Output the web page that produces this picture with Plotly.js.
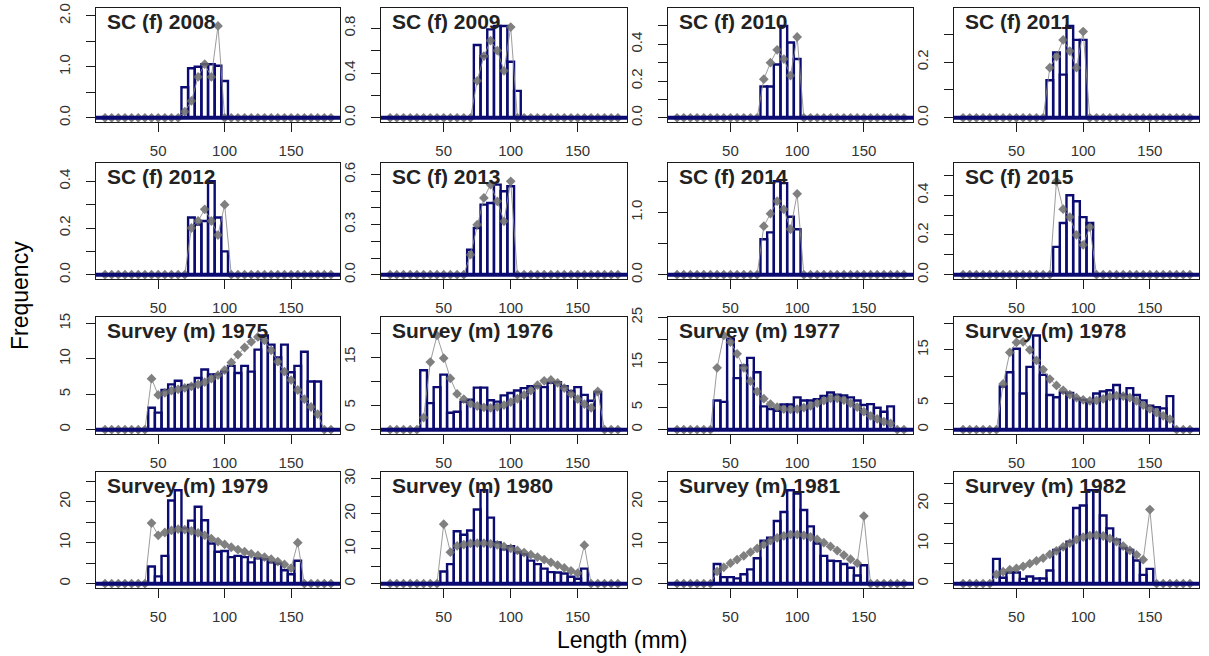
<!DOCTYPE html>
<html><head><meta charset="utf-8">
<script src="https://cdn.plot.ly/plotly-3.0.1.min.js"></script>
<style>html,body{margin:0;padding:0;background:#fff}#chart{width:1209px;height:656px}</style>
</head><body><div id="chart"></div>
<script>
// Length bins (mm)
const lengthBins = [10,15,20,25,30, 35,40,45,50,55, 60,65,70,75,80, 85,90,95,100,105, 110,115,120,125,130, 135,140,145,150,155, 160,165,170,175,180];

const panelTitles = ["SC (f) 2008","SC (f) 2009","SC (f) 2010","SC (f) 2011",
                     "SC (f) 2012","SC (f) 2013","SC (f) 2014","SC (f) 2015",
                     "Survey (m) 1975","Survey (m) 1976","Survey (m) 1977","Survey (m) 1978",
                     "Survey (m) 1979","Survey (m) 1980","Survey (m) 1981","Survey (m) 1982"];

const xTickVals = [50,100,150];
const xTickText = ["50","100","150"];

// Observed (bars) and expected (diamonds) frequencies, one value per length bin
const obs_SC2008 = [0,0,0,0,0, 0,0,0,0,0, 0,0,0.6,0.97,1.0, 1.05,1.05,1.02,0.72,0, 0,0,0,0,0, 0,0,0,0,0, 0,0,0,0,0];
const exp_SC2008 = [0,0,0,0,0, 0,0,0,0,0, 0,0,0.12,0.33,0.8, 1.05,0.8,1.8,0,0, 0,0,0,0,0, 0,0,0,0,0, 0,0,0,0,0];
const obs_SC2009 = [0,0,0,0,0, 0,0,0,0,0, 0,0,0,0.65,0.55, 0.79,0.82,0.82,0.5,0.24, 0,0,0,0,0, 0,0,0,0,0, 0,0,0,0,0];
const exp_SC2009 = [0,0,0,0,0, 0,0,0,0,0, 0,0,0,0.33,0.55, 0.69,0.6,0.42,0.81,0, 0,0,0,0,0, 0,0,0,0,0, 0,0,0,0,0];
const obs_SC2010 = [0,0,0,0,0, 0,0,0,0,0, 0,0,0,0.17,0.17, 0.29,0.5,0.41,0.32,0, 0,0,0,0,0, 0,0,0,0,0, 0,0,0,0,0];
const exp_SC2010 = [0,0,0,0,0, 0,0,0,0,0, 0,0,0,0.21,0.3, 0.37,0.32,0.23,0.44,0, 0,0,0,0,0, 0,0,0,0,0, 0,0,0,0,0];
const obs_SC2011 = [0,0,0,0,0, 0,0,0,0,0, 0,0,0,0.135,0.235, 0.155,0.33,0.28,0.28,0, 0,0,0,0,0, 0,0,0,0,0, 0,0,0,0,0];
const exp_SC2011 = [0,0,0,0,0, 0,0,0,0,0, 0,0,0,0.18,0.22, 0.28,0.24,0.18,0.31,0, 0,0,0,0,0, 0,0,0,0,0, 0,0,0,0,0];
const obs_SC2012 = [0,0,0,0,0, 0,0,0,0,0, 0,0,0,0.245,0.215, 0.23,0.4,0.245,0.1,0, 0,0,0,0,0, 0,0,0,0,0, 0,0,0,0,0];
const exp_SC2012 = [0,0,0,0,0, 0,0,0,0,0, 0,0,0,0.2,0.23, 0.28,0.23,0.17,0.3,0, 0,0,0,0,0, 0,0,0,0,0, 0,0,0,0,0];
const obs_SC2013 = [0,0,0,0,0, 0,0,0,0,0, 0,0,0.15,0.28,0.42, 0.43,0.54,0.5,0.53,0, 0,0,0,0,0, 0,0,0,0,0, 0,0,0,0,0];
const exp_SC2013 = [0,0,0,0,0, 0,0,0,0,0, 0,0,0.12,0.3,0.46, 0.54,0.44,0.32,0.56,0, 0,0,0,0,0, 0,0,0,0,0, 0,0,0,0,0];
const obs_SC2014 = [0,0,0,0,0, 0,0,0,0,0, 0,0,0,0.57,0.68, 1.5,1.47,0.93,0.73,0, 0,0,0,0,0, 0,0,0,0,0, 0,0,0,0,0];
const exp_SC2014 = [0,0,0,0,0, 0,0,0,0,0, 0,0,0,0.78,0.98, 1.18,1.05,0.73,1.3,0, 0,0,0,0,0, 0,0,0,0,0, 0,0,0,0,0];
const obs_SC2015 = [0,0,0,0,0, 0,0,0,0,0, 0,0,0,0,0.14, 0.26,0.4,0.37,0.29,0.26, 0,0,0,0,0, 0,0,0,0,0, 0,0,0,0,0];
const exp_SC2015 = [0,0,0,0,0, 0,0,0,0,0, 0,0,0,0,0.47, 0.33,0.29,0.2,0.15,0.24, 0,0,0,0,0, 0,0,0,0,0, 0,0,0,0,0];

const obs_S1975 = [0,0,0,0,0, 0,0,3.1,2.4,5.6, 6.4,6.9,6.1,6.3,7.3, 8.5,7.8,7.8,8.2,9.0, 8.0,9.0,8.2,11.3,13.3, 12.0,10.2,12.0,8.1,9.0, 11.0,6.8,6.8,0,0];
const exp_S1975 = [0,0,0,0,0, 0,0,7.2,4.9,5.2, 5.5,5.7,5.9,6.1,6.4, 6.7,7.2,7.7,8.4,9.5, 10.6,11.6,12.4,13.1,12.6, 11.2,9.6,8.2,7.0,5.6, 4.3,3.2,2.2,0,0];
const obs_S1976 = [0,0,0,0,0, 12.3,5.5,8.8,11.4,3.5, 3.7,5.8,6.2,8.7,8.7, 6.1,5.8,7.1,7.6,8.1, 8.6,9.0,9.0,8.8,9.7, 9.8,9.0,8.0,8.8,7.2, 6.0,7.8,0,0,0];
const exp_S1976 = [0,0,0,0,0, 2.5,14.0,19.5,14.8,10.6, 7.4,6.3,5.4,4.9,4.6, 4.5,4.7,5.1,5.7,6.4, 7.2,8.1,9.2,10.1,10.3, 9.7,8.6,7.4,6.3,5.3, 4.5,7.9,0,0,0];
const obs_S1977 = [0,0,0,0,0, 0,6.5,6.2,20.3,11.5, 14.3,16.0,12.8,5.2,4.6, 4.2,5.6,5.6,7.2,6.5, 6.5,6.8,7.5,8.3,7.8, 7.6,7.2,6.5,5.5,5.7, 4.9,4.0,5.2,0,0];
const exp_S1977 = [0,0,0,0,0, 0,13.8,21.0,19.5,16.9, 13.8,10.8,8.5,6.9,5.7, 5.0,4.6,4.5,4.6,4.9, 5.3,5.9,6.5,7.0,7.0, 6.6,5.9,5.0,4.0,3.1, 2.4,1.8,1.4,0,0];
const obs_S1978 = [0,0,0,0,0, 0,8.1,10.8,15.2,6.8, 11.8,17.7,10.3,6.5,6.1, 7.0,6.9,5.8,5.6,5.2, 6.8,7.2,7.4,8.4,6.5, 7.8,6.5,5.5,4.5,4.2, 4.0,6.3,0,0,0];
const exp_S1978 = [0,0,0,0,0, 0,8.6,14.5,16.4,16.5, 15.0,13.0,11.3,9.5,8.3, 7.4,6.6,6.0,5.6,5.4, 5.5,5.8,6.2,6.4,6.3, 6.0,5.4,4.6,3.9,3.2, 2.6,2.0,0,0,0];
const obs_S1979 = [0,0,0,0,0, 0,0,4.2,1.8,6.8, 20.3,22.8,13.5,15.4,18.8, 15.5,9.8,7.8,8.0,6.5, 6.8,6.5,5.2,6.2,6.0, 5.2,4.9,3.3,2.3,5.6, 0,0,0,0,0];
const exp_S1979 = [0,0,0,0,0, 0,0,14.8,11.8,12.5, 13.0,13.3,13.2,12.9,12.4, 11.8,11.0,10.3,9.6,8.9, 8.3,7.8,7.3,6.9,6.5, 6.0,5.4,4.7,3.8,10.0, 0,0,0,0,0];
const obs_S1980 = [0,0,0,0,0, 0,0,0,3.5,5.6, 15.0,14.0,15.2,21.2,26.7, 18.9,11.8,9.8,10.7,9.0, 8.4,6.6,5.6,4.3,3.3, 3.2,2.9,2.0,1.4,4.3, 0,0,0,0,0];
const exp_S1980 = [0,0,0,0,0, 0,0,0,17.0,9.0, 10.8,11.2,11.5,11.6,11.6, 11.4,11.1,10.6,10.1,9.5, 8.9,8.3,7.6,6.9,6.1, 5.3,4.5,3.7,3.0,11.0, 0,0,0,0,0];
const obs_S1981 = [0,0,0,0,0, 0,4.8,1.6,1.6,1.3, 2.3,3.5,6.2,10.5,11.2, 15.3,17.5,22.8,22.0,18.0, 14.0,9.8,6.8,5.6,5.5, 4.8,3.9,2.0,4.5,0, 0,0,0,0,0];
const exp_S1981 = [0,0,0,0,0, 0,3.0,4.0,5.0,5.9, 6.8,7.7,8.6,9.6,10.5, 11.2,11.7,12.0,12.0,11.8, 11.4,10.8,10.0,9.1,8.1, 7.0,6.0,5.0,16.5,0, 0,0,0,0,0];
const obs_S1982 = [0,0,0,0,0, 6.2,1.5,2.8,2.8,1.2, 1.8,1.3,1.3,3.3,8.4, 8.9,10.5,18.9,19.5,23.3, 23.3,17.0,13.8,11.0,8.9, 8.4,5.8,2.2,3.7,0, 0,0,0,0,0];
const exp_S1982 = [0,0,0,0,0, 2.3,3.0,3.5,3.8,4.3, 5.0,5.7,6.4,7.3,8.2, 9.2,10.1,11.0,11.6,12.0, 12.1,11.9,11.3,10.5,9.4, 8.3,7.2,6.0,18.5,0, 0,0,0,0,0];

// Y axis ticks and their labels (R drops labels that would overlap)
const yTicks_SC2008 = [0,0.5,1,1.5,2];           const yLabels_SC2008 = ["0.0","","1.0","","2.0"];
const yTicks_SC2009 = [0,0.2,0.4,0.6,0.8];       const yLabels_SC2009 = ["0.0","","0.4","","0.8"];
const yTicks_SC2010 = [0,0.1,0.2,0.3,0.4,0.5];   const yLabels_SC2010 = ["0.0","","0.2","","0.4",""];
const yTicks_SC2011 = [0,0.1,0.2,0.3];           const yLabels_SC2011 = ["0.0","","0.2",""];
const yTicks_SC2012 = [0,0.1,0.2,0.3,0.4];       const yLabels_SC2012 = ["0.0","","0.2","","0.4"];
const yTicks_SC2013 = [0,0.1,0.2,0.3,0.4,0.5,0.6]; const yLabels_SC2013 = ["0.0","","","0.3","","","0.6"];
const yTicks_SC2014 = [0,0.5,1,1.5];             const yLabels_SC2014 = ["0.0","","1.0",""];
const yTicks_SC2015 = [0,0.1,0.2,0.3,0.4,0.5];   const yLabels_SC2015 = ["0.0","","0.2","","0.4",""];
const yTicks_S1975 = [0,5,10,15];                const yLabels_S1975 = ["0","5","10","15"];
const yTicks_S1976 = [0,5,10,15,20];             const yLabels_S1976 = ["0","5","","15",""];
const yTicks_S1977 = [0,5,10,15,20,25];          const yLabels_S1977 = ["0","5","","15","","25"];
const yTicks_S1978 = [0,5,10,15,20];             const yLabels_S1978 = ["0","5","","15",""];
const yTicks_S1979 = [0,5,10,15,20,25];          const yLabels_S1979 = ["0","","10","","20",""];
const yTicks_S1980 = [0,5,10,15,20,25,30];       const yLabels_S1980 = ["0","","10","","20","","30"];
const yTicks_S1981 = [0,5,10,15,20,25];          const yLabels_S1981 = ["0","","10","","20",""];
const yTicks_S1982 = [0,5,10,15,20,25];          const yLabels_S1982 = ["0","","10","","20",""];

const xAxisTitle = "Length (mm)";
const yAxisTitle = "Frequency";

const panelObs = [obs_SC2008,obs_SC2009,obs_SC2010,obs_SC2011,obs_SC2012,obs_SC2013,obs_SC2014,obs_SC2015,
                  obs_S1975,obs_S1976,obs_S1977,obs_S1978,obs_S1979,obs_S1980,obs_S1981,obs_S1982];
const panelExp = [exp_SC2008,exp_SC2009,exp_SC2010,exp_SC2011,exp_SC2012,exp_SC2013,exp_SC2014,exp_SC2015,
                  exp_S1975,exp_S1976,exp_S1977,exp_S1978,exp_S1979,exp_S1980,exp_S1981,exp_S1982];
const panelYTicks = [yTicks_SC2008,yTicks_SC2009,yTicks_SC2010,yTicks_SC2011,yTicks_SC2012,yTicks_SC2013,yTicks_SC2014,yTicks_SC2015,
                     yTicks_S1975,yTicks_S1976,yTicks_S1977,yTicks_S1978,yTicks_S1979,yTicks_S1980,yTicks_S1981,yTicks_S1982];
const panelYLabels = [yLabels_SC2008,yLabels_SC2009,yLabels_SC2010,yLabels_SC2011,yLabels_SC2012,yLabels_SC2013,yLabels_SC2014,yLabels_SC2015,
                      yLabels_S1975,yLabels_S1976,yLabels_S1977,yLabels_S1978,yLabels_S1979,yLabels_S1980,yLabels_S1981,yLabels_S1982];

// ---- layout geometry (pixels) ----
const W = 1209, H = 656;
const colPx = [[96,340],[381,627],[668,913],[954,1199]];
const rowPx = [[8,122],[163,279],[317,434],[472,588]];
const FONT = "Liberation Sans, Arial, sans-serif";
const NAVY = "#0b0b72";

const xmin = Math.min(...lengthBins), xmax = Math.max(...lengthBins);
const xpad = 0.04 * (xmax - xmin);

const traces = [];
const layout = {
  width: W, height: H,
  margin: {l:0, r:0, t:0, b:0},
  paper_bgcolor: "#fff", plot_bgcolor: "#fff",
  showlegend: false,
  bargap: 0,
  annotations: [], shapes: []
};

for (let k = 0; k < 16; k++) {
  const r = Math.floor(k / 4), c = k % 4;
  const id = k + 1;
  const xa = "x" + (id === 1 ? "" : id), ya = "y" + (id === 1 ? "" : id);
  const xkey = "xaxis" + (id === 1 ? "" : id), ykey = "yaxis" + (id === 1 ? "" : id);
  const obs = panelObs[k], exp = panelExp[k];
  const ym = 1.15 * Math.max(...obs, ...exp);

  traces.push({
    type: "bar", x: lengthBins, y: obs, width: 5, xaxis: xa, yaxis: ya,
    marker: {color: "rgba(255,255,255,0)", line: {color: NAVY, width: 2.4}},
    hoverinfo: "skip"
  });
  traces.push({
    type: "scatter", mode: "lines+markers", x: lengthBins, y: exp, xaxis: xa, yaxis: ya,
    line: {color: "#8c8c8c", width: 1},
    marker: {symbol: "diamond", size: 7.5, color: "#6a6a6a"},
    opacity: 0.85, cliponaxis: false, hoverinfo: "skip"
  });

  const axCommon = {
    showline: true, mirror: true, linecolor: "#1a1a1a", linewidth: 1,
    ticks: "outside", ticklen: 9, tickwidth: 1, tickcolor: "#1a1a1a",
    showgrid: false, zeroline: false, fixedrange: true,
    tickfont: {family: FONT, size: 15, color: "#333"}
  };
  layout[xkey] = Object.assign({}, axCommon, {
    domain: [colPx[c][0] / W, colPx[c][1] / W],
    range: [xmin - xpad, xmax + xpad],
    tickmode: "array", tickvals: xTickVals, ticktext: xTickText,
    anchor: ya, ticklabelstandoff: 6
  });
  layout[ykey] = Object.assign({}, axCommon, {
    domain: [1 - rowPx[r][1] / H, 1 - rowPx[r][0] / H],
    range: [-0.04 * ym, 1.04 * ym],
    tickmode: "array", tickvals: panelYTicks[k], ticktext: panelYLabels[k],
    tickangle: -90, anchor: xa, ticklabelstandoff: 10
  });

  layout.shapes.push({
    type: "line", xref: xa + " domain", yref: ya, x0: 0, x1: 1, y0: 0, y1: 0,
    line: {color: NAVY, width: 4}, layer: "above"
  });
  layout.annotations.push({
    xref: xa + " domain", yref: ya + " domain", x: 0.035, y: 1.0,
    xanchor: "left", yanchor: "top", showarrow: false,
    text: panelTitles[k],
    font: {family: FONT, size: 21, color: "#222", weight: "bold"}
  });
}

layout.annotations.push({
  xref: "paper", yref: "paper", x: 622 / W, y: 1 - 640 / H, xanchor: "center", yanchor: "middle",
  showarrow: false, text: xAxisTitle, font: {family: FONT, size: 23, color: "#000"}
});
layout.annotations.push({
  xref: "paper", yref: "paper", x: 20 / W, y: 1 - 296 / H, xanchor: "center", yanchor: "middle",
  showarrow: false, text: yAxisTitle, textangle: -90, font: {family: FONT, size: 23, color: "#000"}
});

Plotly.newPlot("chart", traces, layout, {staticPlot: true, displayModeBar: false});
</script></body></html>
